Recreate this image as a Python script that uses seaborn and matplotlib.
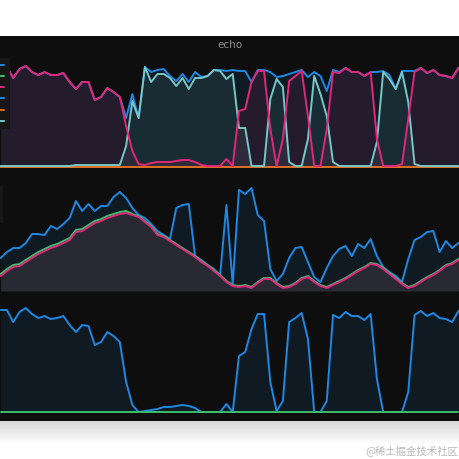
import matplotlib
matplotlib.use('Agg')
import numpy as np
import pandas as pd
import matplotlib.pyplot as plt
from matplotlib.lines import Line2D
from matplotlib.patches import Rectangle
import seaborn as sns

# time index (one sample per step)
t = list(range(74))

# top panel
p1_pink = [100, 100, 89, 98, 101, 95, 92, 95, 92, 92, 94, 85, 78, 85, 85, 67, 70, 79, 75, 70,
           41, 16, 3, 2, 4, 5, 5, 5, 6, 7, 7, 5, 2, 1, 1, 1, 8,
           1, 56, 58, 85, 96, 96, 38, 1, 28, 86, 91, 96, 51, 1, 1, 38, 95, 94, 99, 95, 95, 91, 95,
           28, 1, 1, 1, 3, 48, 95, 99, 94, 97, 92, 91, 89, 99]
p1_teal = [1, 1, 1, 1, 1, 1, 1, 1, 1, 1, 1, 1, 2, 2, 2, 2, 2, 2, 2, 2,
           21, 66, 49, 100, 85, 93, 93, 89, 81, 89, 78, 89, 89, 91, 97, 96, 88,
           93, 39, 39, 1, 1, 1, 68, 88, 80, 5, 1, 1, 28, 91, 73, 51, 5, 1, 1, 1, 1, 1, 1,
           25, 95, 88, 78, 95, 65, 3, 1, 1, 1, 1, 1, 1, 1]
p1_blue = [100, 100, 89, 98, 101, 95, 92, 95, 92, 92, 94, 85, 78, 85, 85, 67, 70, 79, 75, 70,
           49, 73, 49, 100, 95, 97, 98, 91, 86, 93, 85, 95, 90, 91, 97, 97, 96,
           97, 96, 96, 85, 97, 97, 95, 90, 91, 93, 95, 97, 90, 95, 91, 76, 97, 95, 99, 95, 95, 91, 95,
           95, 96, 92, 78, 96, 96, 96, 99, 94, 97, 92, 91, 89, 99]
p1_orange = [0] * 74
p1_green = [0] * 74

# middle panel
p2_pink = [15, 20, 24, 25, 29, 33, 37, 40, 43, 45, 48, 51, 59, 60, 64, 68, 70, 73, 75, 77,
           78, 76, 74, 69, 64, 56, 54, 50, 46, 42, 38, 34, 29, 25, 20, 15, 9,
           5, 4, 5, 3, 8, 12, 12, 7, 3, 4, 7, 12, 14, 9, 5, 3, 6, 9, 12, 16, 20, 23, 27,
           26, 22, 17, 12, 7, 3, 5, 9, 13, 16, 20, 25, 27, 31]
p2_green = [17, 22, 26, 27, 31, 35, 39, 42, 45, 47, 50, 53, 61, 62, 66, 70, 72, 75, 77, 79,
            80, 77, 75, 70, 65, 57, 55, 51, 47, 43, 39, 35, 30, 26, 21, 16, 10,
            6, 5, 6, 4, 9, 13, 13, 8, 4, 5, 8, 13, 15, 10, 6, 4, 7, 10, 13, 17, 21, 24, 28,
            27, 23, 18, 13, 8, 4, 6, 10, 14, 17, 21, 26, 28, 32]
p2_blue = [33, 39, 43, 43, 48, 57, 57, 56, 65, 62, 67, 73, 90, 80, 87, 80, 85, 85, 94, 99,
           93, 83, 76, 73, 67, 60, 56, 52, 83, 86, 87, 35, 31, 26, 22, 16, 86,
           7, 101, 97, 103, 76, 70, 22, 10, 17, 33, 43, 44, 29, 14, 9, 23, 35, 42, 45, 35, 47, 43, 52,
           35, 24, 19, 15, 9, 32, 51, 54, 59, 60, 39, 50, 43, 48]

# bottom panel
p3_blue = [102, 102, 90, 100, 104, 98, 94, 96, 93, 94, 96, 87, 80, 87, 86, 67, 70, 80, 76, 70,
           30, 7, 0, 1, 2, 3, 5, 5, 6, 7, 6, 4, 0, 0, 0, 0, 8, 0,
           56, 60, 83, 98, 98, 30, 1, 11, 90, 94, 99, 73, 0, 0, 11, 97, 94, 100, 96, 96, 92, 98,
           33, 0, 0, 0, 0, 20, 97, 101, 96, 99, 94, 93, 90, 101]
p3_green = [0] * 74

BG = '#0e0e0e'
BLUE = '#1f88e3'
PINK = '#e2267c'
TEAL = '#76c8c8'
GREEN = '#3cbf6a'
ORANGE = '#e06a22'

sns.set_theme(style='dark', rc={'axes.facecolor': 'none', 'figure.facecolor': 'white'})

fig = plt.figure(figsize=(4.6, 4.6), dpi=100)
fig.add_artist(Rectangle((0, 0.0826), 1, 0.837, transform=fig.transFigure,
                         facecolor=BG, edgecolor='none', zorder=0))

# soft shadow under the dark window
sh = fig.add_axes([0, 0.033, 1, 0.05])
sh.imshow(np.linspace(0.84, 1.0, 40)[:, None], cmap='gray', vmin=0, vmax=1,
          aspect='auto', extent=(0, 1, 0, 1))
sh.set_axis_off()


def panel(ax, series, colors, fills, ylim):
    for k in fills:
        ax.fill_between(t, 0, series[k], color=colors[k], alpha=0.1, lw=0)
    df = pd.DataFrame({'t': t, **series}).melt(id_vars='t', var_name='series', value_name='value')
    sns.lineplot(data=df, x='t', y='value', hue='series', hue_order=list(series),
                 palette=colors, lw=1.4, legend=False, ax=ax)
    ax.set_xlim(-0.11, 73.25)
    ax.set_ylim(*ylim)
    ax.set_axis_off()


ax1 = fig.add_axes([0, 0.6326, 1, 0.2326])
panel(ax1, {'green': p1_green, 'orange': p1_orange, 'blue': p1_blue, 'teal': p1_teal, 'pink': p1_pink},
      {'green': GREEN, 'orange': ORANGE, 'blue': BLUE, 'teal': TEAL, 'pink': PINK},
      ['blue', 'teal', 'pink'], (-1, 106))

ax2 = fig.add_axes([0, 0.363, 1, 0.2435])
panel(ax2, {'blue': p2_blue, 'green': p2_green, 'pink': p2_pink},
      {'blue': BLUE, 'green': GREEN, 'pink': PINK},
      ['blue', 'green', 'pink'], (-1, 111))

ax3 = fig.add_axes([0, 0.0978, 1, 0.25])
panel(ax3, {'blue': p3_blue, 'green': p3_green},
      {'blue': BLUE, 'green': GREEN}, ['blue'], (-2, 113))

# legends, mostly cut off at the left edge
leg_kw = dict(loc='upper right', borderaxespad=0, fontsize=6, handlelength=1.0,
              handletextpad=0.3, borderpad=0.4, labelspacing=0.25, frameon=True,
              fancybox=False, facecolor='#171717', edgecolor='none', framealpha=1)
h1 = [Line2D([], [], color=c, lw=1.4) for c in [BLUE, GREEN, PINK, BLUE, ORANGE, TEAL]]
ax1.legend(h1, [''] * 6, bbox_to_anchor=(10 / 460, 1.03), **leg_kw)
h2 = [Line2D([], [], color=c, lw=1.4) for c in [BLUE, GREEN, PINK]]
ax2.legend(h2, [''] * 3, bbox_to_anchor=(3 / 460, 0.95), **leg_kw)

fig.text(0.5, 1 - 45 / 460, 'echo', ha='center', va='center', color='#8e8e8e', fontsize=7.5)
fig.text(0.996, 1 - 451 / 460, '@稀土掘金技术社区', ha='right', va='center', color='#b8b8b8',
         fontsize=7.5, family=['Noto Sans CJK SC', 'DejaVu Sans'])

fig.savefig('out.png', dpi=100)
